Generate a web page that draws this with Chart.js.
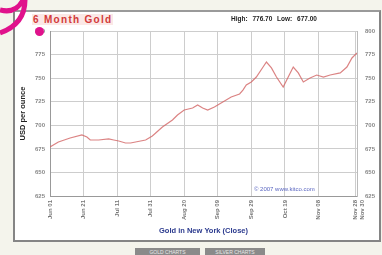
<!DOCTYPE html>
<html>
<head>
<meta charset="utf-8">
<script src="https://cdn.jsdelivr.net/npm/chart.js@4.4.1/dist/chart.umd.min.js"></script>
<style>
  html, body { margin: 0; padding: 0; }
  body { width: 382px; height: 255px; background: #f4f4ec; position: relative; overflow: hidden; font-family: "Liberation Sans", Arial, sans-serif; }
  #frame { position: absolute; left: 13px; top: 10px; width: 364px; height: 228px; background: #fff; border: 2px solid #858585; border-top-color: #9a9a9a; }
  #wrap { position: absolute; left: 0; top: 0; width: 382px; height: 255px; }
  .txt { position: absolute; white-space: nowrap; }
  #title { left: 32px; top: 14px; color: #d23a3a; font-weight: bold; font-size: 10px; letter-spacing: 1.3px; background: #fbe8e6; padding: 0 1px; }
  #range { left: 231px; top: 15px; color: #222; font-weight: bold; font-size: 6.5px; word-spacing: 3px; }
  #mark { left: 254px; top: 186px; color: #5a66c0; font-size: 6px; }
  .btn { position: absolute; top: 248px; height: 9px; background: #8a8a8a; color: #e8e8e8; font-size: 5px; line-height: 8px; text-align: center; }
  #dot { position: absolute; left: 35px; top: 27px; width: 9px; height: 9px; border-radius: 50%; background: #e0128c; }
  svg { position: absolute; left: 0; top: 0; }
</style>
</head>
<body>
<div id="frame"></div>
<div id="wrap"><canvas id="chart" width="382" height="255"></canvas></div>
<div class="txt" id="title">6 Month Gold</div>
<div class="txt" id="range">High: 776.70 Low: 677.00</div>
<div class="txt" id="mark">© 2007 www.kitco.com</div>
<div class="btn" style="left:135px;width:65px;">GOLD CHARTS</div>
<div class="btn" style="left:205px;width:60px;">SILVER CHARTS</div>
<div id="dot"></div>
<svg width="40" height="40"><path d="M0,10 Q16,14 23,0 M25,0 Q25,24 0,33" fill="none" stroke="#e0128c" stroke-width="5"/></svg>
<script>
// Days since start of the 6 month window
const days = [0, 5, 12, 19, 22, 24, 29, 35, 38, 41, 45, 48, 51, 57, 61, 63, 67, 73, 76, 80, 85, 88, 91, 94, 98, 103, 108, 113, 115, 117, 120, 123, 127, 129, 132, 135, 139, 142, 145, 148, 151, 155, 159, 163, 167, 173, 177, 180, 183];
// Gold close, USD per ounce
const prices = [677.0, 682.3, 686.5, 689.7, 687.6, 684.4, 684.4, 685.5, 684.4, 683.3, 681.2, 681.2, 682.3, 684.4, 688.6, 691.8, 698.2, 705.6, 710.9, 716.2, 718.3, 721.5, 718.3, 716.2, 719.4, 724.7, 730.0, 733.2, 737.4, 742.7, 745.9, 751.2, 761.8, 767.1, 760.8, 751.2, 740.6, 751.2, 761.8, 755.5, 745.9, 750.2, 753.3, 751.2, 753.3, 755.5, 761.8, 771.4, 776.7];
// X axis ticks
const tickDays = [0, 20, 40, 60, 80, 100, 120, 140, 160, 182];
const tickLabels = ['Jun 01', 'Jun 21', 'Jul 11', 'Jul 31', 'Aug 20', 'Sep 09', 'Sep 29', 'Oct 19', 'Nov 08', ['Nov 28', 'Nov 30']];
// Y axis range
const yMin = 625, yMax = 800, yStep = 25;

const tickFont = { family: 'Liberation Sans', size: 6, weight: 'bold' };

new Chart(document.getElementById('chart'), {
  type: 'line',
  data: {
    datasets: [{
      data: days.map((d, i) => ({ x: d, y: prices[i] })),
      borderColor: 'rgba(210, 100, 100, 0.8)',
      borderWidth: 1.2,
      pointRadius: 0,
      tension: 0
    }]
  },
  options: {
    responsive: false,
    animation: false,
    layout: { padding: { left: 14, right: 3, top: 31, bottom: 16 } },
    plugins: { legend: { display: false }, tooltip: { enabled: false } },
    scales: {
      x: {
        type: 'linear',
        min: 0,
        max: 183,
        afterBuildTicks: scale => { scale.ticks = tickDays.map(v => ({ value: v })); },
        afterFit: scale => { scale.height = 43; },
        ticks: {
          autoSkip: false,
          minRotation: 90,
          maxRotation: 90,
          padding: 4,
          color: '#777',
          font: tickFont,
          callback: (v, i) => tickLabels[i]
        },
        grid: { color: '#cdcdcd', drawTicks: false },
        border: { color: '#999' },
        title: {
          display: true,
          text: 'Gold in New York (Close)',
          color: '#2b3a8e',
          font: { family: 'Liberation Sans', size: 7.5, weight: 'bold' },
          padding: { top: 0, bottom: 4 }
        }
      },
      y: {
        min: yMin,
        max: yMax,
        afterFit: scale => { scale.width = 36; },
        ticks: { stepSize: yStep, padding: 5, color: '#888', font: tickFont },
        grid: { color: '#cdcdcd', drawTicks: false },
        border: { color: '#999' },
        title: {
          display: true,
          text: 'USD per ounce',
          color: '#222',
          font: { family: 'Liberation Sans', size: 7.5, weight: 'bold' },
          padding: { top: 4, bottom: 0 }
        }
      },
      y2: {
        position: 'right',
        min: yMin,
        max: yMax,
        afterFit: scale => { scale.width = 22; },
        ticks: { stepSize: yStep, padding: 8, color: '#888', font: tickFont },
        grid: { display: false, drawTicks: false },
        border: { color: '#bbb' }
      }
    }
  }
});
</script>
</body>
</html>
